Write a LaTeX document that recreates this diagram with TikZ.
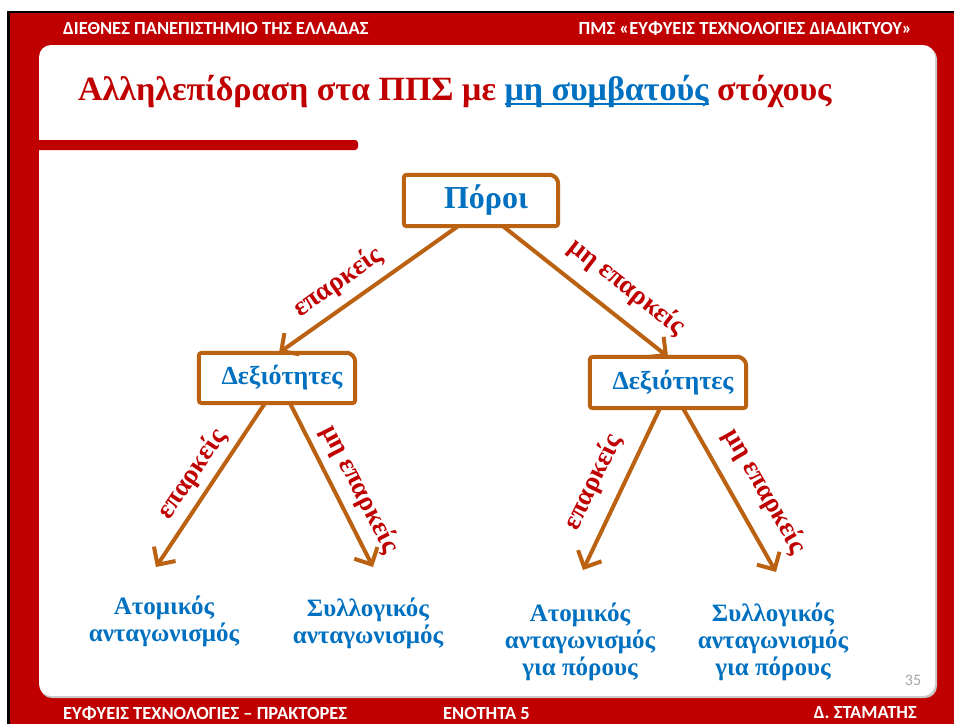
\documentclass[tikz,border=0pt]{standalone}
\usepackage{fontspec}
\setmainfont{Liberation Serif}
\newfontfamily\hdrfont{Carlito}
\usetikzlibrary{arrows.meta,calc}
\definecolor{slidered}{RGB}{192,0,0}
\definecolor{boxbrown}{RGB}{186,98,18}
\definecolor{textblue}{RGB}{0,112,192}
\definecolor{pagegrey}{RGB}{166,166,166}
% underline drawn as a rule below the boxed text
\newcommand\titleul[1]{\setbox0\hbox{#1}\rlap{\rule[-5pt]{\wd0}{2.2pt}}\box0}
\begin{document}
\begin{tikzpicture}[x=1pt,y=-1pt,
  hdr/.style={font=\hdrfont\bfseries\fontsize{18.5}{20}\selectfont, text=white, inner sep=0pt},
  boxnode/.style={font=\bfseries\fontsize{26}{30}\selectfont, text=textblue, inner sep=0pt, minimum width=156pt, minimum height=50pt},
  leaf/.style={font=\bfseries\fontsize{25}{27}\selectfont, text=textblue, align=center, inner sep=0pt},
  lbl/.style={font=\bfseries\fontsize{27}{30}\selectfont, text=slidered, inner sep=0pt},
  link/.style={draw=boxbrown, line width=4pt, -{Straight Barb[length=13pt,width=26pt,line width=4pt]}},
  frame/.style={draw=boxbrown, line width=4pt}
]
\useasboundingbox (0,0) rectangle (954,724);
% slide background and frame
\fill[white] (0,0) rectangle (954,724);
\fill[black] (7,11) rectangle (954,724);
\fill[slidered] (9.5,13) rectangle (954,724);
% content panel with a soft shadow
\fill[black!22, rounded corners=12pt] (40,47) rectangle (937,698);
\fill[white, rounded corners=12pt] (39,45) rectangle (935,696);
% accent bar under the title
\fill[slidered, rounded corners=3pt] (30,140) rectangle (358,150);

% header and footer
\node[hdr, anchor=west] (h1) at (63,28) {ΔΙΕΘΝΕΣ ΠΑΝΕΠΙΣΤΗΜΙΟ ΤΗΣ ΕΛΛΑΔΑΣ};
\node[hdr, anchor=east] (h2) at (912,28) {ΠΜΣ «ΕΥΦΥΕΙΣ ΤΕΧΝΟΛΟΓΙΕΣ ΔΙΑΔΙΚΤΥΟΥ»};
\node[hdr, anchor=west] (f1) at (63,713) {ΕΥΦΥΕΙΣ ΤΕΧΝΟΛΟΓΙΕΣ – ΠΡΑΚΤΟΡΕΣ};
\node[hdr, anchor=west] (f2) at (443,713) {ΕΝΟΤΗΤΑ 5};
\node[hdr, anchor=east] (f3) at (917,713) {Δ. ΣΤΑΜΑΤΗΣ};
\node[font=\hdrfont\fontsize{16}{18}\selectfont, text=pagegrey, inner sep=0pt] (pg) at (913,680) {35};

% title
\node[font=\bfseries\fontsize{34}{40}\selectfont, text=slidered, anchor=west, inner sep=0pt] (title) at (78,91)
  {Αλληλεπίδραση στα ΠΠΣ με {\color{textblue}\titleul{μη συμβατούς}} στόχους};

% decision boxes
\node[boxnode, minimum width=154pt, minimum height=51pt] (poroi) at (481,200.5) {\hspace*{10pt}\fontsize{32}{36}\selectfont Πόροι};
\node[boxnode] (dl) at (277,378) {\hspace*{10pt}Δεξιότητες};
\node[boxnode, minimum height=51pt] (dr) at (668,382.5) {\hspace*{10pt}Δεξιότητες};
\foreach \b in {poroi,dl,dr}{
  \draw[frame, rounded corners=3pt] (\b.south west) -- (\b.north west) -- ([xshift=-9pt]\b.north east)
    [rounded corners=9pt] -- (\b.north east) [rounded corners=3pt] -- (\b.south east) -- cycle;
}

% outcomes
\node[leaf] (l1) at (164,621) {Ατομικός\\ανταγωνισμός};
\node[leaf] (l2) at (368,623) {Συλλογικός\\ανταγωνισμός};
\node[leaf] (l3) at (580,642) {Ατομικός\\ανταγωνισμός\\για πόρους};
\node[leaf] (l4) at (773,642) {Συλλογικός\\ανταγωνισμός\\για πόρους};

% arrow ends above the outcomes
\coordinate (a1) at (156,567);
\coordinate (a2) at (373,567);
\coordinate (a3) at (583,570);
\coordinate (a4) at (776,572);

% connectors
\draw[link] ([xshift=-23pt]poroi.south) -- ([xshift=2pt]dl.north);
\draw[link] ([xshift=22pt]poroi.south) -- (dr.north);
\draw[link] ([xshift=-12pt]dl.south) -- (a1);
\draw[link] ([xshift=13pt]dl.south) -- (a2);
\draw[link] ([xshift=-8pt]dr.south) -- (a3);
\draw[link] ([xshift=15pt]dr.south) -- (a4);

% connector labels
\node[lbl, rotate=35] (e1) at (338,282) {επαρκείς};
\node[lbl, rotate=-38] (e2) at (627,287) {μη επαρκείς};
\node[lbl, rotate=56] (e3) at (192,474) {επαρκείς};
\node[lbl, rotate=-63] (e4) at (360,489) {μη επαρκείς};
\node[lbl, rotate=64] (e5) at (593,482) {επαρκείς};
\node[lbl, rotate=-60] (e6) at (765,491) {μη επαρκείς};
\end{tikzpicture}
\end{document}
